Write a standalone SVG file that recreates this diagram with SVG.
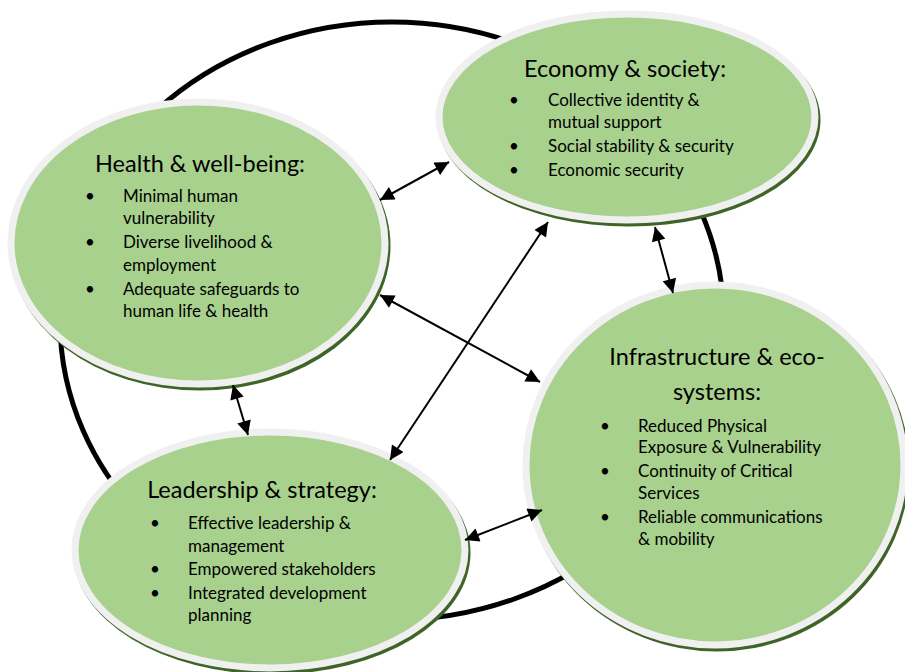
<svg xmlns="http://www.w3.org/2000/svg" width="905" height="672" viewBox="0 0 905 672">
<style>
  .shadow { fill: #3f6428; }
  .node { fill: #a9d18e; stroke: #f0f0f0; stroke-width: 7; }
  .title { font-family: Lato, "Liberation Sans", sans-serif; font-size: 23.5px; fill: #000; }
  .body { font-family: Lato, "Liberation Sans", sans-serif; font-size: 17px; fill: #000; }
  .conn { stroke: #000; stroke-width: 2; fill: none; marker-start: url(#ah); marker-end: url(#ah); }
  .ring { stroke: #000; stroke-width: 5; fill: none; }
</style>
<defs>
  <marker id="ah" viewBox="0 0 10 10" refX="10" refY="5" markerWidth="7.5" markerHeight="7" orient="auto-start-reverse" markerUnits="strokeWidth">
    <path d="M0,0 L10,5 L0,10 z" fill="#000"/>
  </marker>
</defs>
<rect width="905" height="672" fill="#fff"/>
<g id="cycle">
  <ellipse class="ring" cx="392" cy="321" rx="332" ry="299"/>
</g>
<g id="health">
  <ellipse class="shadow" cx="200" cy="246" rx="190.5" ry="144.5"/>
  <ellipse class="node" cx="198" cy="243" rx="187" ry="141"/>
  <text class="title" x="200" y="172" text-anchor="middle">Health &amp; well-being:</text>
  <g class="body">
    <text x="85" y="202">•</text><text x="123" y="202">Minimal human</text>
    <text x="123" y="224">vulnerability</text>
    <text x="85" y="248">•</text><text x="123" y="248">Diverse livelihood &amp;</text>
    <text x="123" y="271">employment</text>
    <text x="85" y="295">•</text><text x="123" y="295">Adequate safeguards to</text>
    <text x="123" y="317">human life &amp; health</text>
  </g>
</g>
<g id="economy">
  <ellipse class="shadow" cx="629" cy="120" rx="191.5" ry="106.5"/>
  <ellipse class="node" cx="627" cy="117" rx="188" ry="103"/>
  <text class="title" x="625" y="77" text-anchor="middle">Economy &amp; society:</text>
  <g class="body">
    <text x="509" y="106">•</text><text x="548" y="106">Collective identity &amp;</text>
    <text x="548" y="128">mutual support</text>
    <text x="509" y="152">•</text><text x="548" y="152">Social stability &amp; security</text>
    <text x="509" y="176">•</text><text x="548" y="176">Economic security</text>
  </g>
</g>
<g id="infrastructure">
  <ellipse class="shadow" cx="717" cy="468" rx="192.5" ry="183.5"/>
  <ellipse class="node" cx="715" cy="465" rx="189" ry="180"/>
  <text class="title" x="717" y="365" text-anchor="middle">Infrastructure &amp; eco-</text>
  <text class="title" x="717" y="400" text-anchor="middle">systems:</text>
  <g class="body">
    <text x="600" y="432">•</text><text x="638" y="432">Reduced Physical</text>
    <text x="638" y="453">Exposure &amp; Vulnerability</text>
    <text x="600" y="477">•</text><text x="638" y="477">Continuity of Critical</text>
    <text x="638" y="499">Services</text>
    <text x="600" y="523">•</text><text x="638" y="523">Reliable communications</text>
    <text x="638" y="545">&amp; mobility</text>
  </g>
</g>
<g id="leadership">
  <ellipse class="shadow" cx="272" cy="553" rx="198.5" ry="121.5"/>
  <ellipse class="node" cx="270" cy="550" rx="195" ry="118"/>
  <text class="title" x="262" y="498" text-anchor="middle">Leadership &amp; strategy:</text>
  <g class="body">
    <text x="150" y="529">•</text><text x="188" y="529">Effective leadership &amp;</text>
    <text x="188" y="552">management</text>
    <text x="150" y="575">•</text><text x="188" y="575">Empowered stakeholders</text>
    <text x="150" y="599">•</text><text x="188" y="599">Integrated development</text>
    <text x="188" y="621">planning</text>
  </g>
</g>
<g id="connectors">
  <line class="conn" x1="380" y1="200" x2="449" y2="162"/>
  <line class="conn" x1="380" y1="295" x2="540" y2="382"/>
  <line class="conn" x1="233" y1="385" x2="248" y2="435"/>
  <line class="conn" x1="548" y1="222" x2="390" y2="460"/>
  <line class="conn" x1="655" y1="227" x2="673" y2="293"/>
  <line class="conn" x1="465" y1="540" x2="542" y2="510"/>
</g>
</svg>
